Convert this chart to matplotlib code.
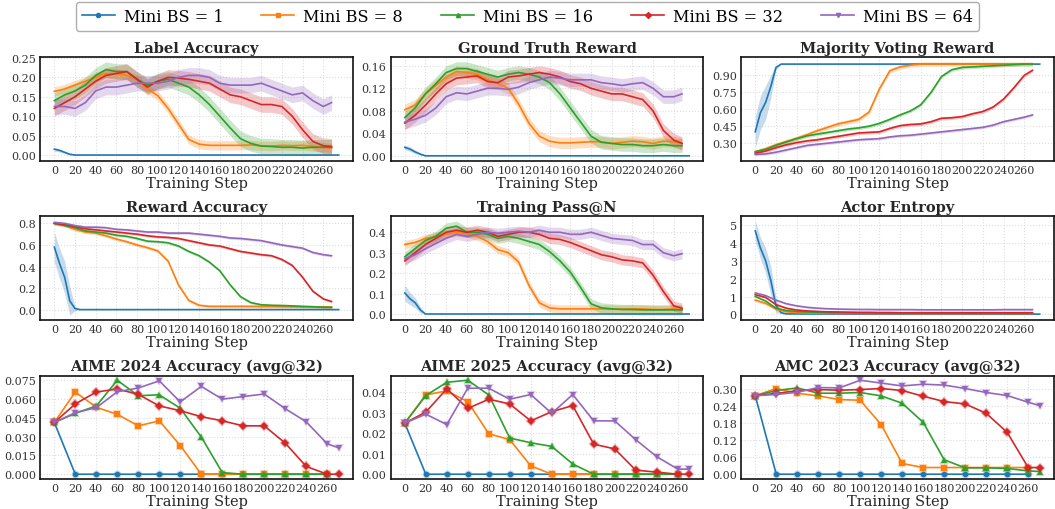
import matplotlib.pyplot as plt
import matplotlib.colors as mcolors
from matplotlib.lines import Line2D
import numpy as np

plt.rcParams['font.family'] = 'DejaVu Serif'

labels = ['Mini BS = 1', 'Mini BS = 8', 'Mini BS = 16', 'Mini BS = 32', 'Mini BS = 64']
colors = ['#1f77b4', '#ff7f0e', '#2ca02c', '#d62728', '#9467bd']
markers = ['o', 's', '^', 'D', 'v']

# training curves, read every 10 steps (bs=1 has its own steps, it is flat after ~25)
steps = list(range(0, 270, 10)) + [268]
steps_bs1 = [0, 5, 10, 15, 20, 25, 30, 275]

# Label Accuracy
la_bs1 = [0.015, 0.012, 0.007, 0.002, 0.0, 0.0, 0.0, 0.0]
la_bs1_sd = [0.005, 0.004, 0.003, 0.002, 0.0, 0.0, 0.0, 0.0]
la_bs8 = [0.164, 0.17, 0.18, 0.19, 0.20, 0.21, 0.21, 0.205, 0.195, 0.17, 0.153, 0.12, 0.08, 0.04,
          0.028, 0.025, 0.025, 0.025, 0.025, 0.026, 0.024, 0.023, 0.025, 0.024, 0.025, 0.022, 0.02, 0.018]
la_bs16 = [0.14, 0.155, 0.165, 0.18, 0.205, 0.22, 0.215, 0.215, 0.195, 0.18, 0.19, 0.195, 0.185, 0.175,
           0.155, 0.13, 0.10, 0.07, 0.042, 0.03, 0.023, 0.022, 0.02, 0.02, 0.018, 0.02, 0.02, 0.02]
la_bs32 = [0.12, 0.135, 0.15, 0.17, 0.19, 0.205, 0.21, 0.215, 0.195, 0.175, 0.19, 0.20, 0.198, 0.195,
           0.19, 0.185, 0.17, 0.155, 0.15, 0.14, 0.13, 0.13, 0.125, 0.10, 0.065, 0.035, 0.024, 0.022]
la_bs64 = [0.125, 0.125, 0.12, 0.135, 0.165, 0.175, 0.175, 0.18, 0.185, 0.185, 0.185, 0.19, 0.20, 0.205,
           0.205, 0.20, 0.185, 0.18, 0.18, 0.18, 0.185, 0.175, 0.165, 0.155, 0.16, 0.14, 0.125, 0.135]
la_sd = [0.012, 0.02, 0.02, 0.02]

# Ground Truth Reward
gt_bs1 = [0.015, 0.012, 0.007, 0.003, 0.0, 0.0, 0.0, 0.0]
gt_bs1_sd = [0.004, 0.004, 0.003, 0.002, 0.0, 0.0, 0.0, 0.0]
gt_bs8 = [0.082, 0.09, 0.11, 0.125, 0.14, 0.15, 0.148, 0.145, 0.135, 0.128, 0.12, 0.092, 0.058, 0.035,
          0.026, 0.023, 0.023, 0.024, 0.025, 0.025, 0.022, 0.024, 0.026, 0.025, 0.022, 0.026, 0.025, 0.022]
gt_bs16 = [0.068, 0.085, 0.11, 0.128, 0.148, 0.155, 0.155, 0.15, 0.145, 0.14, 0.145, 0.148, 0.145, 0.14,
           0.13, 0.11, 0.085, 0.06, 0.035, 0.024, 0.022, 0.02, 0.02, 0.018, 0.018, 0.02, 0.018, 0.018]
gt_bs32 = [0.058, 0.072, 0.09, 0.11, 0.128, 0.138, 0.14, 0.142, 0.132, 0.13, 0.14, 0.142, 0.145, 0.148,
           0.145, 0.14, 0.132, 0.128, 0.12, 0.115, 0.11, 0.11, 0.105, 0.10, 0.08, 0.045, 0.028, 0.022]
gt_bs64 = [0.06, 0.065, 0.072, 0.085, 0.105, 0.112, 0.11, 0.115, 0.12, 0.12, 0.118, 0.122, 0.13, 0.135,
           0.14, 0.138, 0.135, 0.135, 0.135, 0.13, 0.128, 0.125, 0.128, 0.13, 0.12, 0.105, 0.105, 0.11]
gt_sd = [0.01, 0.012, 0.012, 0.012]

# Majority Voting Reward
mv_bs1 = [0.40, 0.57, 0.66, 0.80, 0.97, 1.0, 1.0, 1.0]
mv_bs1_sd = [0.14, 0.15, 0.15, 0.10, 0.02, 0.0, 0.0, 0.0]
mv_bs8 = [0.222, 0.25, 0.285, 0.315, 0.343, 0.375, 0.41, 0.44, 0.47, 0.49, 0.51, 0.575, 0.78, 0.94,
          0.975, 0.99, 1.0, 1.0, 1.0, 1.0, 1.0, 1.0, 1.0, 1.0, 1.0, 1.0, 1.0, 1.0]
mv_bs16 = [0.225, 0.245, 0.28, 0.31, 0.34, 0.365, 0.38, 0.395, 0.41, 0.425, 0.435, 0.45, 0.475, 0.51,
           0.55, 0.585, 0.64, 0.75, 0.89, 0.95, 0.97, 0.975, 0.98, 0.985, 0.99, 0.995, 1.0, 1.0]
mv_bs32 = [0.21, 0.23, 0.26, 0.285, 0.305, 0.32, 0.33, 0.345, 0.36, 0.375, 0.39, 0.395, 0.40, 0.43,
           0.455, 0.465, 0.47, 0.49, 0.52, 0.525, 0.535, 0.56, 0.58, 0.62, 0.69, 0.79, 0.90, 0.945]
mv_bs64 = [0.20, 0.205, 0.22, 0.24, 0.26, 0.28, 0.29, 0.30, 0.31, 0.32, 0.33, 0.335, 0.34, 0.355,
           0.365, 0.37, 0.38, 0.39, 0.40, 0.41, 0.42, 0.43, 0.44, 0.46, 0.49, 0.51, 0.53, 0.55]
mv_sd = [0.02, 0.015, 0.015, 0.012]

# Reward Accuracy
ra_bs1 = [0.58, 0.43, 0.30, 0.08, 0.01, 0.0, 0.0, 0.0]
ra_bs1_sd = [0.14, 0.14, 0.15, 0.13, 0.02, 0.0, 0.0, 0.0]
ra_bs8 = [0.80, 0.78, 0.745, 0.72, 0.71, 0.685, 0.655, 0.63, 0.60, 0.575, 0.545, 0.45, 0.23, 0.085,
          0.04, 0.03, 0.03, 0.03, 0.03, 0.03, 0.028, 0.028, 0.027, 0.026, 0.025, 0.025, 0.025, 0.025]
ra_bs16 = [0.80, 0.78, 0.76, 0.73, 0.72, 0.71, 0.69, 0.68, 0.66, 0.635, 0.63, 0.62, 0.59, 0.54,
           0.50, 0.44, 0.36, 0.23, 0.12, 0.065, 0.045, 0.04, 0.038, 0.035, 0.03, 0.027, 0.022, 0.02]
ra_bs32 = [0.80, 0.79, 0.77, 0.75, 0.74, 0.73, 0.72, 0.71, 0.70, 0.685, 0.675, 0.67, 0.66, 0.64,
           0.62, 0.60, 0.59, 0.565, 0.54, 0.525, 0.51, 0.50, 0.465, 0.41, 0.30, 0.17, 0.10, 0.075]
ra_bs64 = [0.81, 0.80, 0.78, 0.765, 0.765, 0.76, 0.745, 0.74, 0.73, 0.72, 0.72, 0.71, 0.71, 0.71,
           0.70, 0.69, 0.68, 0.665, 0.66, 0.65, 0.64, 0.62, 0.60, 0.585, 0.57, 0.53, 0.51, 0.50]
ra_sd = [0.015, 0.012, 0.012, 0.012]

# Training Pass@N
pn_bs1 = [0.103, 0.075, 0.055, 0.02, 0.0, 0.0, 0.0, 0.0]
pn_bs1_sd = [0.04, 0.03, 0.025, 0.015, 0.0, 0.0, 0.0, 0.0]
pn_bs8 = [0.34, 0.35, 0.37, 0.38, 0.39, 0.40, 0.395, 0.38, 0.355, 0.315, 0.30, 0.255, 0.14, 0.055,
          0.03, 0.025, 0.025, 0.025, 0.025, 0.025, 0.024, 0.024, 0.025, 0.025, 0.022, 0.022, 0.025, 0.02]
pn_bs16 = [0.28, 0.32, 0.36, 0.38, 0.42, 0.43, 0.40, 0.40, 0.39, 0.37, 0.38, 0.37, 0.355, 0.34,
           0.305, 0.26, 0.205, 0.13, 0.05, 0.03, 0.025, 0.022, 0.022, 0.02, 0.02, 0.02, 0.02, 0.02]
pn_bs32 = [0.26, 0.30, 0.34, 0.37, 0.40, 0.41, 0.40, 0.41, 0.40, 0.38, 0.39, 0.40, 0.40, 0.39,
           0.37, 0.365, 0.35, 0.33, 0.31, 0.29, 0.28, 0.265, 0.26, 0.25, 0.19, 0.11, 0.04, 0.028]
pn_bs64 = [0.27, 0.29, 0.32, 0.345, 0.37, 0.39, 0.38, 0.39, 0.40, 0.395, 0.40, 0.405, 0.40, 0.41,
           0.40, 0.40, 0.39, 0.39, 0.40, 0.385, 0.37, 0.365, 0.36, 0.34, 0.34, 0.30, 0.285, 0.295]
pn_sd = [0.02, 0.025, 0.025, 0.025]

# Actor Entropy
en_bs1 = [4.65, 3.7, 3.0, 1.9, 0.5, 0.1, 0.03, 0.02]
en_bs1_sd = [0.55, 0.6, 0.7, 0.8, 0.4, 0.05, 0.0, 0.0]
en_bs8 = [0.80, 0.62, 0.30, 0.15, 0.10, 0.08, 0.07, 0.065, 0.06, 0.06, 0.06, 0.055, 0.055, 0.055,
          0.055, 0.05, 0.05, 0.05, 0.05, 0.05, 0.05, 0.05, 0.05, 0.05, 0.05, 0.05, 0.05, 0.05]
en_bs16 = [1.00, 0.75, 0.35, 0.22, 0.17, 0.14, 0.12, 0.10, 0.09, 0.085, 0.08, 0.08, 0.075, 0.075,
           0.07, 0.07, 0.07, 0.07, 0.07, 0.07, 0.07, 0.07, 0.07, 0.07, 0.07, 0.07, 0.07, 0.07]
en_bs32 = [1.10, 0.95, 0.55, 0.35, 0.25, 0.20, 0.17, 0.15, 0.14, 0.13, 0.12, 0.12, 0.11, 0.11,
           0.10, 0.10, 0.10, 0.10, 0.10, 0.10, 0.10, 0.10, 0.10, 0.10, 0.10, 0.10, 0.10, 0.10]
en_bs64 = [1.20, 1.05, 0.80, 0.60, 0.48, 0.40, 0.35, 0.32, 0.30, 0.29, 0.28, 0.28, 0.27, 0.27,
           0.27, 0.27, 0.26, 0.26, 0.26, 0.26, 0.26, 0.26, 0.26, 0.26, 0.27, 0.27, 0.27, 0.27]
en_sd = [0.08, 0.05, 0.05, 0.05]

# eval benchmarks, every 20 steps (some runs have one more eval at the end)
eval_steps = list(range(0, 280, 20))
eval_steps_ext = eval_steps + [271]

a24_bs1 = [0.0413] + [0.0] * 13
a24_bs8 = [0.0413, 0.0656, 0.0534, 0.0478, 0.0386, 0.0426, 0.0229, 0, 0, 0, 0, 0, 0, 0]
a24_bs16 = [0.0413, 0.0486, 0.0545, 0.075, 0.0626, 0.0634, 0.0526, 0.0297, 0.0013, 0, 0, 0, 0, 0]
a24_bs32 = [0.0413, 0.0561, 0.0656, 0.068, 0.0637, 0.0545, 0.0507, 0.0459, 0.0426, 0.0386, 0.0386,
            0.0248, 0.0062, 0, 0]
a24_bs64 = [0.0413, 0.0491, 0.0531, 0.0658, 0.0688, 0.0745, 0.0577, 0.0701, 0.0599, 0.062, 0.064,
            0.0523, 0.0418, 0.0243, 0.021]

a25_bs1 = [0.025] + [0.0] * 13
a25_bs8 = [0.025, 0.0388, 0.0408, 0.0355, 0.0198, 0.0169, 0.0041, 0, 0, 0, 0, 0, 0, 0]
a25_bs16 = [0.025, 0.0385, 0.045, 0.046, 0.0388, 0.0177, 0.0154, 0.0136, 0.005, 0, 0, 0, 0, 0]
a25_bs32 = [0.025, 0.0304, 0.0418, 0.0322, 0.0367, 0.0344, 0.0261, 0.0306, 0.0336, 0.0147, 0.0124,
            0.002, 0.001, 0, 0]
a25_bs64 = [0.025, 0.0294, 0.0243, 0.0421, 0.0421, 0.0367, 0.039, 0.0298, 0.039, 0.0261, 0.0261,
            0.0169, 0.0086, 0.0025, 0.0025]

amc_bs1 = [0.275] + [0.0] * 13
amc_bs8 = [0.275, 0.30, 0.2836, 0.2742, 0.2613, 0.259, 0.1734, 0.0375, 0.0234, 0.0234, 0.0234,
           0.0234, 0.0234, 0.0234]
amc_bs16 = [0.275, 0.293, 0.302, 0.2836, 0.2836, 0.286, 0.2742, 0.2484, 0.1816, 0.0504, 0.0223,
            0.0223, 0.02, 0.0117, 0.0094]
amc_bs32 = [0.275, 0.283, 0.292, 0.2965, 0.294, 0.2965, 0.30, 0.293, 0.273, 0.2543, 0.246, 0.2133,
            0.1465, 0.0234, 0.0234]
amc_bs64 = [0.275, 0.279, 0.287, 0.3035, 0.302, 0.329, 0.319, 0.309, 0.315, 0.312, 0.30, 0.286,
            0.2754, 0.252, 0.240]

train_panels = [
    ('Label Accuracy', [la_bs1, la_bs8, la_bs16, la_bs32, la_bs64], la_bs1_sd, la_sd,
     [0, 0.05, 0.10, 0.15, 0.20, 0.25], '{:.2f}'),
    ('Ground Truth Reward', [gt_bs1, gt_bs8, gt_bs16, gt_bs32, gt_bs64], gt_bs1_sd, gt_sd,
     [0, 0.04, 0.08, 0.12, 0.16], '{:.2f}'),
    ('Majority Voting Reward', [mv_bs1, mv_bs8, mv_bs16, mv_bs32, mv_bs64], mv_bs1_sd, mv_sd,
     [0.30, 0.45, 0.60, 0.75, 0.90], '{:.2f}'),
    ('Reward Accuracy', [ra_bs1, ra_bs8, ra_bs16, ra_bs32, ra_bs64], ra_bs1_sd, ra_sd,
     [0, 0.2, 0.4, 0.6, 0.8], '{:.1f}'),
    ('Training Pass@N', [pn_bs1, pn_bs8, pn_bs16, pn_bs32, pn_bs64], pn_bs1_sd, pn_sd,
     [0, 0.1, 0.2, 0.3, 0.4], '{:.1f}'),
    ('Actor Entropy', [en_bs1, en_bs8, en_bs16, en_bs32, en_bs64], en_bs1_sd, en_sd,
     [0, 1, 2, 3, 4, 5], '{:.0f}'),
]
eval_panels = [
    ('AIME 2024 Accuracy (avg@32)', [a24_bs1, a24_bs8, a24_bs16, a24_bs32, a24_bs64],
     [0, 0.015, 0.030, 0.045, 0.060, 0.075], '{:.3f}'),
    ('AIME 2025 Accuracy (avg@32)', [a25_bs1, a25_bs8, a25_bs16, a25_bs32, a25_bs64],
     [0, 0.01, 0.02, 0.03, 0.04], '{:.2f}'),
    ('AMC 2023 Accuracy (avg@32)', [amc_bs1, amc_bs8, amc_bs16, amc_bs32, amc_bs64],
     [0, 0.06, 0.12, 0.18, 0.24, 0.30], '{:.2f}'),
]

fig, axes = plt.subplots(3, 3, figsize=(10.55, 5.1), dpi=100)
fig.subplots_adjust(left=0.038, right=0.999, top=0.886, bottom=0.059, wspace=0.12, hspace=0.54)


def style(ax, title, yticks, fmt):
    ax.set_title(title, fontsize=10.5, fontweight='bold', color='#262626', pad=4)
    ax.set_xlabel('Training Step', fontsize=10.5, color='#262626', labelpad=1)
    ax.set_xticks(range(0, 280, 20))
    ax.set_yticks(yticks)
    ax.set_yticklabels([fmt.format(v) for v in yticks])
    ax.tick_params(length=0, labelsize=8, labelcolor='#333333', pad=3)
    ax.grid(True, color='#dddddd', linestyle=':', linewidth=0.8)
    ax.set_axisbelow(True)
    for sp in ax.spines.values():
        sp.set_color('#111111')
        sp.set_linewidth(1.2)


for ax, (title, series, sd1, sds, yticks, fmt) in zip(axes[:2].flat, train_panels):
    for i, vals in enumerate(series):
        x = np.array(steps_bs1 if i == 0 else steps)
        y = np.array(vals)
        sd = np.array(sd1) if i == 0 else sds[i - 1]
        ax.fill_between(x, y - sd, y + sd, color=colors[i], alpha=0.25, linewidth=0)
        ax.plot(x, y, color=colors[i], linewidth=1.2)
    style(ax, title, yticks, fmt)

for ax, (title, series, yticks, fmt) in zip(axes[2], eval_panels):
    for i, vals in enumerate(series):
        x = eval_steps if len(vals) == len(eval_steps) else eval_steps_ext
        ax.plot(x, vals, color=colors[i], linewidth=1.2, marker=markers[i], markersize=4,
                markeredgecolor=mcolors.to_rgba(colors[i], 0.3), markeredgewidth=1.5)
    style(ax, title, yticks, fmt)

handles = [Line2D([], [], color=colors[i], marker=markers[i], markersize=3, linewidth=1.2,
                  markeredgecolor=colors[i]) for i in range(5)]
fig.legend(handles, labels, loc='upper center', bbox_to_anchor=(0.5, 1.0), ncol=5,
           fontsize=11.6, frameon=True, edgecolor='#999999', fancybox=True,
           columnspacing=2.36, handlelength=2.05, handletextpad=0.56,
           borderpad=0.35, borderaxespad=0.2)

fig.savefig('out.png', dpi=100)
